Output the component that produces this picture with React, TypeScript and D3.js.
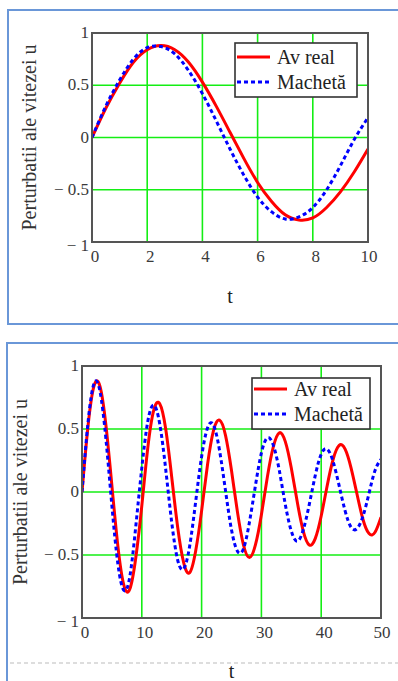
import React, { useRef, useEffect } from "react";
import * as d3 from "d3";

// top chart, t = 0..10
const tShort = [0, 0.5, 1, 1.5, 2, 2.5, 3, 3.5, 4, 4.5, 5, 5.5, 6, 6.5, 7, 7.5, 8, 8.5, 9, 9.5, 10];
const realShort = [0, 0.28, 0.52, 0.72, 0.84, 0.88, 0.84, 0.72, 0.53, 0.3, 0.05, -0.2, -0.43, -0.61, -0.74, -0.79, -0.77, -0.67, -0.52, -0.33, -0.11];
const machetaShort = [0, 0.3, 0.55, 0.75, 0.86, 0.87, 0.8, 0.64, 0.42, 0.16, -0.11, -0.36, -0.57, -0.71, -0.78, -0.76, -0.67, -0.5, -0.27, -0.02, 0.19];

// bottom chart, t = 0..50
const tLong = [
  0, 1, 2, 3, 4, 5, 6, 7, 8, 9, 10, 11, 12, 13, 14, 15, 16, 17, 18, 19, 20, 21, 22, 23, 24, 25,
  26, 27, 28, 29, 30, 31, 32, 33, 34, 35, 36, 37, 38, 39, 40, 41, 42, 43, 44, 45, 46, 47, 48, 49, 50,
];
const realLong = [
  0, 0.52, 0.84, 0.84, 0.53, 0.05, -0.43, -0.74, -0.77, -0.52, -0.11, 0.35, 0.65, 0.7, 0.5, 0.12,
  -0.28, -0.56, -0.64, -0.47, -0.15, 0.22, 0.49, 0.57, 0.45, 0.17, -0.16, -0.42, -0.52, -0.42, -0.18,
  0.12, 0.36, 0.47, 0.4, 0.19, -0.08, -0.31, -0.42, -0.37, -0.19, 0.05, 0.26, 0.37, 0.34, 0.19, -0.02,
  -0.22, -0.33, -0.32, -0.2,
];
const machetaLong = [
  0, 0.55, 0.86, 0.8, 0.42, -0.11, -0.57, -0.78, -0.67, -0.27, 0.19, 0.56, 0.69, 0.54, 0.18, -0.24,
  -0.54, -0.61, -0.43, -0.08, 0.28, 0.51, 0.53, 0.33, 0.01, -0.3, -0.47, -0.45, -0.24, 0.05, 0.31,
  0.43, 0.37, 0.17, -0.1, -0.31, -0.39, -0.3, -0.1, 0.13, 0.3, 0.34, 0.24, 0.05, -0.15, -0.28, -0.29,
  -0.19, -0.01, 0.17, 0.26,
];

const xTicksShort = [0, 2, 4, 6, 8, 10];
const xTicksLong = [0, 10, 20, 30, 40, 50];
const yTicks = [1, 0.5, 0, -0.5, -1];
const yTickLabels = ["1", "0.5", "0", "\u2212 0.5", "\u2212 1"];
const seriesNames = ["Av real", "Machet\u0103"];
const yTitle = "Perturbatii ale vitezei u";

const FONT = "'Liberation Serif', 'Times New Roman', serif";
const GREEN = "#14ee14";

const Chart = ({ id, t, real, macheta, xTicks, frame, legend, yTitleX, tTitleY }) => {
  const ref = useRef(null);

  useEffect(() => {
    const g = d3.select(ref.current);
    g.selectAll("*").remove();

    const x = d3
      .scaleLinear()
      .domain([xTicks[0], xTicks[xTicks.length - 1]])
      .range([frame.left, frame.right]);
    const y = d3.scaleLinear().domain([-1, 1]).range([frame.bottom, frame.top]);

    g.append("clipPath")
      .attr("id", id)
      .append("rect")
      .attr("x", frame.left)
      .attr("y", frame.top)
      .attr("width", frame.right - frame.left)
      .attr("height", frame.bottom - frame.top);

    // grid
    g.append("g")
      .selectAll("line")
      .data(xTicks.slice(1, -1))
      .join("line")
      .attr("x1", (d) => x(d))
      .attr("x2", (d) => x(d))
      .attr("y1", frame.top)
      .attr("y2", frame.bottom)
      .attr("stroke", GREEN)
      .attr("stroke-width", 1.6);
    g.append("g")
      .selectAll("line")
      .data(yTicks.slice(1, -1))
      .join("line")
      .attr("x1", frame.left)
      .attr("x2", frame.right)
      .attr("y1", (d) => y(d))
      .attr("y2", (d) => y(d))
      .attr("stroke", GREEN)
      .attr("stroke-width", 1.6);

    const line = d3
      .line()
      .x((d, i) => x(t[i]))
      .y((d) => y(d))
      .curve(d3.curveNatural);

    const lines = g.append("g").attr("clip-path", `url(#${id})`);
    lines
      .append("path")
      .attr("d", line(real))
      .attr("fill", "none")
      .attr("stroke", "#ff0000")
      .attr("stroke-width", 3);
    lines
      .append("path")
      .attr("d", line(macheta))
      .attr("fill", "none")
      .attr("stroke", "#0000ff")
      .attr("stroke-width", 3)
      .attr("stroke-dasharray", "4,3");

    // frame
    g.append("rect")
      .attr("x", frame.left)
      .attr("y", frame.top)
      .attr("width", frame.right - frame.left)
      .attr("height", frame.bottom - frame.top)
      .attr("fill", "none")
      .attr("stroke", "#555")
      .attr("stroke-width", 2);

    // tick labels
    g.append("g")
      .selectAll("text")
      .data(yTicks)
      .join("text")
      .attr("x", frame.left - 3)
      .attr("y", (d, i) => y(d) + (i === yTicks.length - 1 ? 9 : 5))
      .attr("text-anchor", "end")
      .attr("font-family", FONT)
      .attr("font-size", 17)
      .attr("fill", "#3a3a3a")
      .text((d, i) => yTickLabels[i]);
    g.append("g")
      .selectAll("text")
      .data(xTicks)
      .join("text")
      .attr("x", (d, i) => x(d) + (i === xTicks.length - 1 ? 1 : 3))
      .attr("y", frame.bottom + 20)
      .attr("text-anchor", "middle")
      .attr("font-family", FONT)
      .attr("font-size", 17)
      .attr("fill", "#3a3a3a")
      .text((d) => d);

    // axis titles
    g.append("text")
      .attr("transform", `translate(${yTitleX}, ${(frame.top + frame.bottom) / 2}) rotate(-90)`)
      .attr("text-anchor", "middle")
      .attr("font-family", FONT)
      .attr("font-size", 20)
      .attr("fill", "#333")
      .text(yTitle);
    g.append("text")
      .attr("x", (frame.left + frame.right) / 2)
      .attr("y", tTitleY)
      .attr("text-anchor", "middle")
      .attr("font-family", FONT)
      .attr("font-size", 20)
      .attr("fill", "#222")
      .text("t");

    // legend
    const lg = g.append("g");
    lg.append("rect")
      .attr("x", legend.x)
      .attr("y", legend.y)
      .attr("width", legend.w)
      .attr("height", legend.h)
      .attr("fill", "#fff")
      .attr("stroke", "#333")
      .attr("stroke-width", 1.6);
    const rows = [legend.row1, legend.row2];
    seriesNames.forEach((name, i) => {
      lg.append("line")
        .attr("x1", legend.x + 2)
        .attr("x2", legend.x + 35)
        .attr("y1", rows[i])
        .attr("y2", rows[i])
        .attr("stroke", i === 0 ? "#ff0000" : "#0000ff")
        .attr("stroke-width", 3)
        .attr("stroke-dasharray", i === 0 ? null : "4,3");
      lg.append("text")
        .attr("x", legend.x + 42)
        .attr("y", rows[i] + 7)
        .attr("font-family", FONT)
        .attr("font-size", 20)
        .attr("fill", "#222")
        .text(name);
    });
  }, []);

  return <g ref={ref} />;
};

export default function App() {
  return (
    <svg
      width={398}
      height={681}
      style={{ position: "absolute", left: 0, top: 0, background: "#fff" }}
    >
      <rect x={8} y={10} width={400} height={314} fill="none" stroke="#6a97d8" strokeWidth={2} />
      <rect x={7} y={343} width={400} height={400} fill="none" stroke="#6a97d8" strokeWidth={2} />
      <line x1={10} x2={398} y1={663} y2={663} stroke="#bbb" strokeWidth={1} strokeDasharray="4,3" />
      <Chart
        id="clipTop"
        t={tShort}
        real={realShort}
        macheta={machetaShort}
        xTicks={xTicksShort}
        frame={{ left: 92, right: 368, top: 33, bottom: 242 }}
        legend={{ x: 235, y: 43, w: 122, h: 54, row1: 57, row2: 82 }}
        yTitleX={36}
        tTitleY={303}
      />
      <Chart
        id="clipBottom"
        t={tLong}
        real={realLong}
        macheta={machetaLong}
        xTicks={xTicksLong}
        frame={{ left: 82, right: 381, top: 366, bottom: 618 }}
        legend={{ x: 252, y: 378, w: 118, h: 51, row1: 389, row2: 414 }}
        yTitleX={27}
        tTitleY={678}
      />
    </svg>
  );
}
